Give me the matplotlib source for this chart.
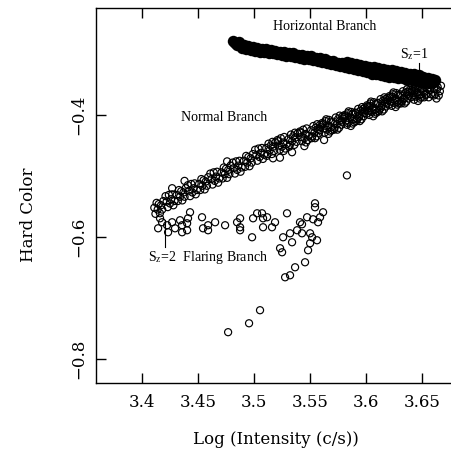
import matplotlib
matplotlib.use("Agg")
import matplotlib.pyplot as plt

# Horizontal branch (filled points)
hb_x = [3.481, 3.483, 3.485, 3.487, 3.489, 3.491, 3.493, 3.495, 3.497, 3.499,
        3.501, 3.503, 3.505, 3.507, 3.509, 3.511, 3.513, 3.515, 3.517, 3.519,
        3.521, 3.523, 3.525, 3.527, 3.529, 3.531, 3.533, 3.535, 3.537, 3.539,
        3.541, 3.543, 3.545, 3.547, 3.549, 3.551, 3.553, 3.555, 3.557, 3.559,
        3.561, 3.563, 3.565, 3.567, 3.569, 3.571, 3.573, 3.575, 3.577, 3.579,
        3.581, 3.583, 3.585, 3.587, 3.589, 3.591, 3.593, 3.595, 3.597, 3.599,
        3.601, 3.603, 3.605, 3.607, 3.609, 3.611, 3.613, 3.615, 3.617, 3.619,
        3.621, 3.623, 3.625, 3.627, 3.629, 3.631, 3.633, 3.635, 3.637, 3.639,
        3.641, 3.643, 3.645, 3.647, 3.649, 3.651, 3.653, 3.655, 3.657, 3.659,
        3.661, 3.662]
hb_y = [-0.278, -0.282, -0.285, -0.281, -0.290, -0.285, -0.292, -0.287, -0.294, -0.289,
        -0.295, -0.290, -0.296, -0.291, -0.297, -0.292, -0.298, -0.293, -0.299, -0.295,
        -0.300, -0.296, -0.301, -0.297, -0.303, -0.298, -0.304, -0.299, -0.305, -0.301,
        -0.306, -0.302, -0.308, -0.303, -0.309, -0.304, -0.310, -0.306, -0.312, -0.307,
        -0.313, -0.309, -0.315, -0.311, -0.317, -0.312, -0.318, -0.314, -0.320, -0.315,
        -0.322, -0.313, -0.323, -0.315, -0.325, -0.317, -0.327, -0.318, -0.328, -0.320,
        -0.330, -0.321, -0.332, -0.322, -0.333, -0.323, -0.334, -0.325, -0.336, -0.326,
        -0.337, -0.327, -0.338, -0.328, -0.339, -0.329, -0.340, -0.331, -0.342, -0.332,
        -0.343, -0.333, -0.345, -0.335, -0.346, -0.337, -0.347, -0.339, -0.348, -0.341,
        -0.346, -0.343]

# Normal branch (open points)
nb_x = [3.411, 3.412, 3.413, 3.414, 3.415, 3.416, 3.417, 3.418, 3.419,
        3.421, 3.422, 3.423, 3.424, 3.425, 3.426, 3.427, 3.428, 3.429,
        3.431, 3.432, 3.433, 3.434, 3.435, 3.436, 3.437, 3.438, 3.439,
        3.441, 3.442, 3.443, 3.444, 3.445, 3.446, 3.447, 3.448, 3.449,
        3.451, 3.452, 3.453, 3.454, 3.455, 3.456, 3.457, 3.458, 3.459,
        3.461, 3.462, 3.463, 3.464, 3.465, 3.466, 3.467, 3.468, 3.469,
        3.471, 3.472, 3.473, 3.474, 3.475, 3.476, 3.477, 3.478, 3.479,
        3.481, 3.482, 3.483, 3.484, 3.485, 3.486, 3.487, 3.488, 3.489,
        3.491, 3.492, 3.493, 3.494, 3.495, 3.496, 3.497, 3.498, 3.499,
        3.501, 3.502, 3.503, 3.504, 3.505, 3.506, 3.507, 3.508, 3.509,
        3.511, 3.512, 3.513, 3.514, 3.515, 3.516, 3.517, 3.518, 3.519, 3.5115, 3.5165,
        3.521, 3.522, 3.523, 3.524, 3.525, 3.526, 3.527, 3.528, 3.529, 3.5215, 3.5265,
        3.531, 3.532, 3.533, 3.534, 3.535, 3.536, 3.537, 3.538, 3.539, 3.5315, 3.5365,
        3.541, 3.542, 3.543, 3.544, 3.545, 3.546, 3.547, 3.548, 3.549, 3.5415, 3.5465,
        3.551, 3.552, 3.553, 3.554, 3.555, 3.556, 3.557, 3.558, 3.559, 3.5515, 3.5565, 3.5585, 3.5545, 3.5595,
        3.561, 3.562, 3.563, 3.564, 3.565, 3.566, 3.567, 3.568, 3.569, 3.5615, 3.5665, 3.5685, 3.5645, 3.5695,
        3.571, 3.572, 3.573, 3.574, 3.575, 3.576, 3.577, 3.578, 3.579, 3.5715, 3.5765, 3.5785, 3.5745, 3.5795,
        3.581, 3.582, 3.583, 3.584, 3.585, 3.586, 3.587, 3.588, 3.589, 3.5815, 3.5865, 3.5885, 3.5845, 3.5895,
        3.591, 3.592, 3.593, 3.594, 3.595, 3.596, 3.597, 3.598, 3.599, 3.5915, 3.5965, 3.5985, 3.5945, 3.5995,
        3.601, 3.602, 3.603, 3.604, 3.605, 3.606, 3.607, 3.608, 3.609, 3.6015, 3.6065, 3.6085, 3.6045, 3.6095,
        3.611, 3.612, 3.613, 3.614, 3.615, 3.616, 3.617, 3.618, 3.619, 3.6115, 3.6165, 3.6185, 3.6145, 3.6195,
        3.621, 3.622, 3.623, 3.624, 3.625, 3.626, 3.627, 3.628, 3.629, 3.6215, 3.6265, 3.6285, 3.6245, 3.6295,
        3.631, 3.632, 3.633, 3.634, 3.635, 3.636, 3.637, 3.638, 3.639, 3.6315, 3.6365, 3.6385, 3.6345, 3.6395,
        3.641, 3.642, 3.643, 3.644, 3.645, 3.646, 3.647, 3.648, 3.649, 3.6415, 3.6465, 3.6485, 3.6445, 3.6495,
        3.651, 3.652, 3.653, 3.654, 3.655, 3.656, 3.657, 3.658, 3.659,
        3.661, 3.662, 3.663, 3.664, 3.665, 3.666, 3.667,
        3.6005, 3.6035, 3.6075, 3.6105, 3.6135, 3.6175, 3.6205, 3.6235, 3.6275, 3.6305,
        3.6335, 3.6375, 3.6405, 3.6435, 3.6475, 3.6505, 3.6535, 3.6575, 3.6605, 3.6635,
        3.5905, 3.5935, 3.5975, 3.5805, 3.5835, 3.5875,
        3.4269, 3.517, 3.534, 3.5626, 3.583, 3.5232, 3.438, 3.476, 3.545]
nb_y = [-0.552, -0.562, -0.544, -0.555, -0.546, -0.561, -0.548, -0.555, -0.541,
        -0.533, -0.542, -0.551, -0.531, -0.545, -0.538, -0.530, -0.548, -0.541,
        -0.531, -0.541, -0.523, -0.534, -0.525, -0.540, -0.527, -0.534, -0.520,
        -0.515, -0.524, -0.533, -0.513, -0.527, -0.520, -0.512, -0.530, -0.523,
        -0.513, -0.523, -0.505, -0.516, -0.507, -0.522, -0.509, -0.516, -0.502,
        -0.496, -0.505, -0.514, -0.494, -0.508, -0.501, -0.493, -0.511, -0.504,
        -0.494, -0.504, -0.486, -0.497, -0.488, -0.503, -0.490, -0.497, -0.483,
        -0.478, -0.487, -0.496, -0.476, -0.490, -0.483, -0.475, -0.493, -0.486,
        -0.475, -0.485, -0.467, -0.478, -0.469, -0.484, -0.471, -0.478, -0.464,
        -0.457, -0.466, -0.475, -0.455, -0.469, -0.462, -0.454, -0.472, -0.465,
        -0.454, -0.464, -0.447, -0.458, -0.450, -0.464, -0.452, -0.459, -0.445, -0.467, -0.444,
        -0.441, -0.450, -0.457, -0.438, -0.452, -0.445, -0.436, -0.455, -0.448, -0.443, -0.459,
        -0.439, -0.449, -0.432, -0.443, -0.435, -0.449, -0.437, -0.444, -0.430, -0.452, -0.429,
        -0.427, -0.436, -0.443, -0.424, -0.438, -0.431, -0.422, -0.441, -0.434, -0.429, -0.445,
        -0.425, -0.435, -0.418, -0.429, -0.421, -0.435, -0.423, -0.430, -0.416, -0.438, -0.415, -0.425, -0.438, -0.420,
        -0.413, -0.422, -0.429, -0.410, -0.424, -0.417, -0.408, -0.427, -0.420, -0.415, -0.431, -0.411, -0.407, -0.425,
        -0.411, -0.421, -0.404, -0.415, -0.407, -0.421, -0.409, -0.416, -0.402, -0.424, -0.401, -0.411, -0.424, -0.406,
        -0.400, -0.409, -0.416, -0.397, -0.411, -0.404, -0.395, -0.414, -0.407, -0.402, -0.418, -0.398, -0.394, -0.412,
        -0.397, -0.407, -0.390, -0.401, -0.393, -0.407, -0.395, -0.402, -0.388, -0.410, -0.387, -0.397, -0.410, -0.392,
        -0.384, -0.393, -0.400, -0.381, -0.395, -0.388, -0.379, -0.398, -0.391, -0.386, -0.402, -0.382, -0.378, -0.396,
        -0.381, -0.391, -0.374, -0.385, -0.377, -0.391, -0.379, -0.386, -0.372, -0.394, -0.371, -0.381, -0.394, -0.376,
        -0.369, -0.378, -0.385, -0.366, -0.380, -0.373, -0.364, -0.383, -0.376, -0.371, -0.387, -0.367, -0.363, -0.381,
        -0.368, -0.378, -0.361, -0.372, -0.364, -0.378, -0.366, -0.373, -0.359, -0.381, -0.358, -0.368, -0.381, -0.363,
        -0.359, -0.368, -0.375, -0.356, -0.370, -0.363, -0.354, -0.373, -0.366, -0.361, -0.377, -0.357, -0.353, -0.371,
        -0.361, -0.371, -0.354, -0.365, -0.357, -0.371, -0.359, -0.366, -0.352,
        -0.357, -0.366, -0.373, -0.354, -0.368, -0.361, -0.352,
        -0.398, -0.385, -0.392, -0.380, -0.388, -0.374, -0.383, -0.370, -0.379, -0.366,
        -0.374, -0.362, -0.371, -0.360, -0.368, -0.357, -0.367, -0.356, -0.368, -0.358,
        -0.396, -0.404, -0.390, -0.403, -0.413, -0.399,
        -0.520, -0.471, -0.461, -0.441, -0.499, -0.470, -0.508, -0.476, -0.451]

# Flaring branch (open points)
fb_x = [3.4144, 3.4161, 3.4179, 3.4224, 3.4269, 3.4233, 3.4295, 3.4340, 3.4358, 3.4358,
        3.4403, 3.4403, 3.4411, 3.4429, 3.4536, 3.4545, 3.4590, 3.4590, 3.4653, 3.4742,
        3.4849, 3.4876, 3.4876, 3.4876, 3.4983, 3.4992, 3.5028, 3.5072, 3.5081, 3.5117,
        3.5081, 3.5161, 3.5188, 3.5295, 3.5233, 3.5251, 3.5260, 3.5322, 3.5340, 3.5385,
        3.5411, 3.5429, 3.5474, 3.5429, 3.5501, 3.5519, 3.5528, 3.5572, 3.5590, 3.5617,
        3.5545, 3.5545, 3.5501, 3.5483, 3.5563, 3.5456, 3.5367, 3.5322, 3.5278,
        3.4769, 3.4956, 3.5054]
fb_y = [-0.5857, -0.5693, -0.5758, -0.5807, -0.5758, -0.5922, -0.5857, -0.5725, -0.5807, -0.5922,
        -0.5775, -0.5889, -0.5693, -0.5594, -0.5676, -0.5857, -0.5807, -0.5889, -0.5758, -0.5807,
        -0.5758, -0.5693, -0.5840, -0.5889, -0.6004, -0.5693, -0.5611, -0.5611, -0.5693, -0.5676,
        -0.5840, -0.5840, -0.5758, -0.5611, -0.6184, -0.6250, -0.6004, -0.5939, -0.6086, -0.5889,
        -0.5758, -0.5791, -0.5676, -0.5939, -0.5939, -0.6004, -0.5709, -0.5758, -0.5676, -0.5594,
        -0.5447, -0.5512, -0.6102, -0.6217, -0.6053, -0.6414, -0.6496, -0.6627, -0.6660,
        -0.7560, -0.7414, -0.7200]

x_ticks = [3.4, 3.45, 3.5, 3.55, 3.6, 3.65]
x_tick_labels = ["3.4", "3.45", "3.5", "3.55", "3.6", "3.65"]
y_ticks = [-0.8, -0.6, -0.4]
y_tick_labels = ["\u22120.8", "\u22120.6", "\u22120.4"]

plt.rcParams["mathtext.fontset"] = "stix"

fig = plt.figure(figsize=(4.52, 4.51), dpi=100)
ax = fig.add_axes([96 / 452, 68 / 451, 360 / 452, 375 / 451])

ax.scatter(nb_x, nb_y, s=26, facecolors="none", edgecolors="black", linewidths=0.85, zorder=2)
ax.scatter(fb_x, fb_y, s=26, facecolors="none", edgecolors="black", linewidths=0.85, zorder=2)
ax.scatter(hb_x, hb_y, s=68, color="black", linewidths=0, zorder=3)

ax.set_xlim(3.35893, 3.6804)
ax.set_ylim(-0.8393, -0.2246)

ax.set_xticks(x_ticks)
ax.set_xticklabels(x_tick_labels, family="DejaVu Serif", fontsize=12)
ax.set_yticks(y_ticks)
ax.set_yticklabels(y_tick_labels, family="DejaVu Serif", fontsize=12,
                   rotation=90, va="center")
ax.tick_params(direction="in", length=7, width=1, top=True, right=False, pad=8)
ax.tick_params(axis="y", pad=6)
ax.spines["right"].set_visible(False)
for sp in ("left", "bottom", "top"):
    ax.spines[sp].set_linewidth(1)

ax.set_xlabel("Log (Intensity (c/s))", family="DejaVu Serif", fontsize=12, labelpad=14)
ax.set_ylabel("Hard Color", family="DejaVu Serif", fontsize=12)
ax.yaxis.set_label_coords(-0.164, 0.448)

serif = "Liberation Serif"
ax.text(3.5634, -0.2557, "Horizontal Branch", family=serif, fontsize=10,
        ha="center", va="center")
ax.text(3.4732, -0.4049, "Normal Branch", family=serif, fontsize=10,
        ha="center", va="center")
ax.text(3.6429, -0.300, r"S$_\mathrm{z}$=1", family=serif, fontsize=10,
        ha="center", va="center")
ax.plot([3.6473, 3.6473], [-0.3148, -0.3344], color="black", lw=0.8)
ax.text(3.4054, -0.6328, r"S$_\mathrm{z}$=2  Flaring Branch", family=serif, fontsize=10,
        ha="left", va="center")
ax.plot([3.4205, 3.4205], [-0.5721, -0.6164], color="black", lw=0.8)

fig.savefig("out.png", dpi=100)
